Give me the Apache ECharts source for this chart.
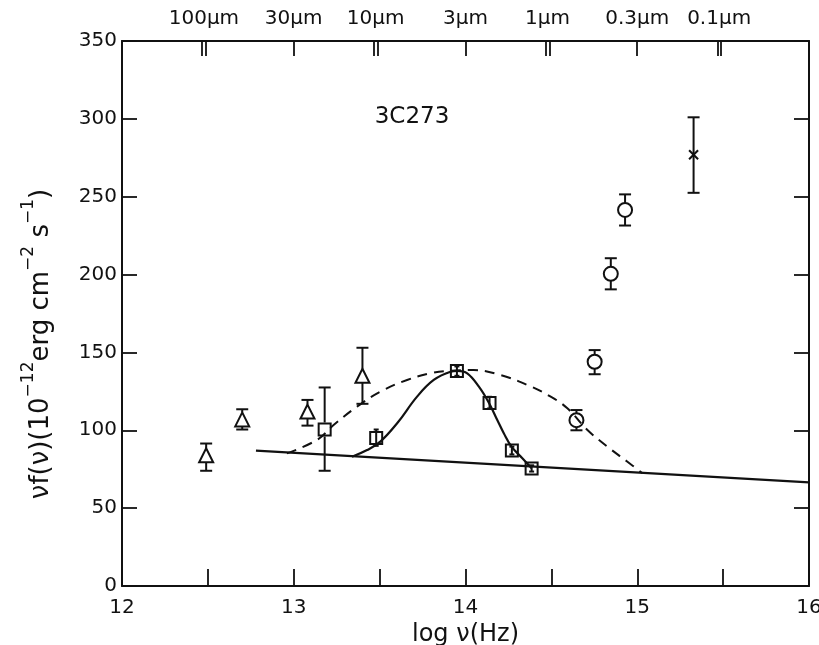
<!DOCTYPE html>
<html>
<head>
<meta charset="utf-8">
<title>3C273 spectral energy distribution</title>
<script src="https://cdn.jsdelivr.net/npm/echarts@6/dist/echarts.min.js"></script>
<style>
  html, body { margin: 0; padding: 0; background: #fff; }
  #chart { width: 819px; height: 645px; }
</style>
</head>
<body>
<div id="chart"></div>
<script>
// ---- Data (log ν in Hz, νf(ν) in 1e-12 erg cm^-2 s^-1) ----
const triX  = [12.49, 12.70, 13.08, 13.40];
const triY  = [84, 107, 112, 135];
const triLo = [74, 100.5, 103, 117];
const triHi = [91.5, 113.5, 119.5, 153];

const sqX  = [13.18, 13.48, 13.95, 14.14, 14.27, 14.385];
const sqY  = [100.5, 95, 138, 117.5, 87, 75.5];
const sqLo = [74, 90, 135, 114, 84.5, 73.5];
const sqHi = [127.5, 100.5, 141, 121.5, 89.5, 77.5];

const circX  = [14.646, 14.752, 14.846, 14.929];
const circY  = [106.5, 144, 200.5, 241.5];
const circLo = [100, 136, 190.5, 231.5];
const circHi = [113, 151.5, 210.5, 251.5];

const crossX  = [15.328];
const crossY  = [277];
const crossLo = [252.5];
const crossHi = [301];

// Power-law continuum
const contX = [12.78, 16.0];
const contY = [87, 66.5];

// Dashed model curve
const dashX = [12.96, 13.135, 13.232, 13.369, 13.504, 13.66, 13.796, 13.913, 14.047,
               14.204, 14.36, 14.496, 14.593, 14.71, 14.826, 14.943, 15.03];
const dashY = [85.2, 93.8, 103.4, 115.2, 124.8, 132.3, 136.6, 138.3, 138.7,
               135.5, 129.1, 121.6, 114.1, 100.2, 89.5, 79.8, 72.4];

// Solid bump curve
const bumpX = [13.339, 13.427, 13.504, 13.602, 13.718, 13.815, 13.913, 13.952, 14.01,
               14.078, 14.136, 14.185, 14.223, 14.268, 14.331, 14.385];
const bumpY = [83.0, 87.3, 92.7, 104.5, 121.6, 132.3, 137.6, 138.1, 136.6,
               128.0, 117.7, 106.6, 98.1, 89.5, 82.0, 75.6];

// Wavelength scale along the top edge
const waveUm     = [100, 30, 10, 3, 1, 0.3, 0.1];
const waveLabels = ['100μm', '30μm', '10μm', '3μm', '1μm', '0.3μm', '0.1μm'];

const xTickLabels = ['12', '13', '14', '15', '16'];
const yTickLabels = ['0', '50', '100', '150', '200', '250', '300', '350'];

const sourceName = '3C273';

// ---- Helpers ----
const C_UM = 2.99792458e14; // speed of light in μm/s
const waveLogNu = waveUm.map(l => Math.log10(C_UM / l));
const waveTicks = [];
waveUm.forEach((l, i) => {
  const v = waveLogNu[i];
  const decade = Math.abs(Math.log10(l) - Math.round(Math.log10(l))) < 1e-6;
  if (decade) { waveTicks.push(v - 0.011, v + 0.011); } else { waveTicks.push(v); }
});

const zip = (xs, ys) => xs.map((x, i) => [x, ys[i]]);
const zip4 = (xs, ys, lo, hi) => xs.map((x, i) => [x, ys[i], lo[i], hi[i]]);

const INK = '#111';
const FONT = 'DejaVu Sans';

// Data markers with vertical error bars; the bar stops at the marker outline
// unless the whole bar fits inside it.
function markerSeries(shape, data) {
  const half = shape === 'cross' ? 4.5 : 7;
  return {
    type: 'custom',
    data: data,
    z: 5,
    clip: false,
    renderItem: function (params, api) {
      const c = api.coord([api.value(0), api.value(1)]);
      const top = api.coord([api.value(0), api.value(3)])[1];
      const bot = api.coord([api.value(0), api.value(2)])[1];
      const cx = c[0], cy = c[1];
      const st = { stroke: INK, lineWidth: 2, fill: null };
      const kids = [];
      const seg = (x1, y1, x2, y2) => kids.push({ type: 'line', shape: { x1, y1, x2, y2 }, style: st });
      const outside = shape === 'cross' || (cy - top > half + 1 && bot - cy > half + 1);
      if (outside) {
        if (shape === 'cross') {
          seg(cx, top, cx, bot);
        } else {
          seg(cx, top, cx, cy - half);
          seg(cx, cy + half, cx, bot);
        }
        seg(cx - 6, top, cx + 6, top);
        seg(cx - 6, bot, cx + 6, bot);
      } else {
        seg(cx, top, cx, bot);
        seg(cx - 2.5, top, cx + 2.5, top);
        seg(cx - 2.5, bot, cx + 2.5, bot);
      }
      if (shape === 'triangle') {
        kids.push({ type: 'polygon', shape: { points: [[cx, cy - half], [cx + half, cy + half], [cx - half, cy + half]] }, style: st });
      } else if (shape === 'square') {
        kids.push({ type: 'rect', shape: { x: cx - half + 1, y: cy - half + 1, width: 2 * half - 2, height: 2 * half - 2 }, style: st });
      } else if (shape === 'circle') {
        kids.push({ type: 'circle', shape: { cx: cx, cy: cy, r: half }, style: st });
      } else {
        seg(cx - half, cy - half, cx + half, cy + half);
        seg(cx - half, cy + half, cx + half, cy - half);
      }
      return { type: 'group', children: kids };
    }
  };
}

const chart = echarts.init(document.getElementById('chart'), null, { renderer: 'canvas' });

const axisLine = { show: true, onZero: false, lineStyle: { color: INK, width: 2 } };
const tickStyle = { show: true, inside: true, length: 15, lineStyle: { color: INK, width: 1.8 } };
const labelStyle = { color: INK, fontFamily: FONT, fontSize: 20 };

chart.setOption({
  backgroundColor: '#fff',
  animation: false,
  grid: { left: 122, right: 10, top: 41, bottom: 59, containLabel: false, outerBoundsMode: 'none' },
  xAxis: [
    {
      type: 'value', position: 'bottom', min: 12, max: 16, interval: 0.5,
      axisLine: axisLine,
      axisTick: Object.assign({}, tickStyle, { length: 17 }),
      splitLine: { show: false },
      axisLabel: Object.assign({}, labelStyle, {
        margin: 12,
        showMinLabel: true, showMaxLabel: true,
        formatter: v => {
          const i = xTickLabels.indexOf(String(v));
          return i >= 0 ? xTickLabels[i] : '';
        }
      }),
      name: 'log ν(Hz)', nameLocation: 'middle', nameGap: 33,
      nameTextStyle: { color: INK, fontFamily: FONT, fontSize: 24 }
    },
    {
      type: 'value', position: 'top', min: 12, max: 16,
      axisLine: axisLine,
      axisTick: Object.assign({}, tickStyle, { customValues: waveTicks }),
      splitLine: { show: false },
      axisLabel: Object.assign({}, labelStyle, {
        margin: 12,
        customValues: waveLogNu,
        formatter: v => {
          let best = 0;
          waveLogNu.forEach((w, i) => { if (Math.abs(w - v) < Math.abs(waveLogNu[best] - v)) best = i; });
          return waveLabels[best];
        }
      })
    }
  ],
  yAxis: [
    {
      type: 'value', position: 'left', min: 0, max: 350, interval: 50,
      axisLine: axisLine,
      axisTick: tickStyle,
      splitLine: { show: false },
      axisLabel: Object.assign({}, labelStyle, {
        margin: 5,
        formatter: v => yTickLabels[Math.round(v / 50)]
      })
    },
    {
      type: 'value', position: 'right', min: 0, max: 350, interval: 50,
      axisLine: axisLine,
      axisTick: tickStyle,
      splitLine: { show: false },
      axisLabel: { show: false }
    }
  ],
  graphic: [
    {
      type: 'text', x: 412, y: 117,
      style: { text: sourceName, fill: INK, font: '23px "DejaVu Sans"', align: 'center', verticalAlign: 'middle' }
    },
    {
      type: 'text', x: 41, y: 344, rotation: Math.PI / 2,
      style: {
        text: '{a|νf(ν)(10}{s|−12}{a|erg cm}{s|−2}{a| s}{s|−1}{a|)}',
        align: 'center', verticalAlign: 'middle',
        rich: {
          a: { fontFamily: FONT, fontSize: 26, fill: INK, lineHeight: 42 },
          s: { fontFamily: FONT, fontSize: 17, fill: INK, lineHeight: 10, verticalAlign: 'top' }
        }
      }
    }
  ],
  series: [
    {
      type: 'line', data: zip(contX, contY), showSymbol: false, silent: true,
      lineStyle: { color: INK, width: 2.2 }, z: 3
    },
    {
      type: 'line', data: zip(dashX, dashY), showSymbol: false, smooth: 0.4, silent: true,
      lineStyle: { color: INK, width: 2, type: [10, 7] }, z: 3
    },
    {
      type: 'line', data: zip(bumpX, bumpY), showSymbol: false, smooth: 0.4, silent: true,
      lineStyle: { color: INK, width: 2.2 }, z: 3
    },
    markerSeries('triangle', zip4(triX, triY, triLo, triHi)),
    markerSeries('square', zip4(sqX, sqY, sqLo, sqHi)),
    markerSeries('circle', zip4(circX, circY, circLo, circHi)),
    markerSeries('cross', zip4(crossX, crossY, crossLo, crossHi))
  ]
});
</script>
</body>
</html>
